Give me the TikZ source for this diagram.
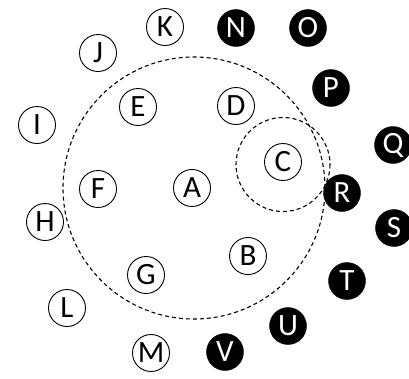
\documentclass[tikz,border=0pt]{standalone}
\usepackage{fontspec}
\setmainfont{Carlito}
\begin{document}
\begin{tikzpicture}[x=1pt,y=-1pt,
  wn/.style={circle,draw=black,line width=0.9pt,fill=white,minimum size=37pt,inner sep=0pt,font=\fontsize{31}{31}\selectfont},
  bn/.style={circle,draw=black,fill=black,text=white,minimum size=37pt,inner sep=0pt,font=\fontsize{31}{31}\selectfont},
  ring/.style={draw=black,line width=1.1pt,dash pattern=on 4pt off 3pt}]
\useasboundingbox (0,0) rectangle (409,378);
\coordinate (bigc) at (194,188);
\coordinate (smc) at (283,164.5);
\draw[ring] (bigc) circle[radius=131];
\draw[ring] (smc) circle[radius=47];
\node[wn] (A) at (192,188) {A};
\node[wn] (B) at (248,256) {B};
\node[wn] (C) at (283,162) {C};
\node[wn] (D) at (236,106) {D};
\node[wn] (E) at (138,107) {E};
\node[wn] (F) at (98,189) {F};
\node[wn] (G) at (146,275) {G};
\node[wn] (H) at (45,222) {H};
\node[wn] (I) at (37,125) {I};
\node[wn] (J) at (98,53) {J};
\node[wn] (K) at (165,27) {K};
\node[wn] (L) at (67,308) {L};
\node[wn] (M) at (151,353) {M};
\node[bn] (N) at (236,28) {N};
\node[bn] (O) at (308,28) {O};
\node[bn] (P) at (331,88) {P};
\node[bn] (Q) at (393,145) {Q};
\node[bn] (R) at (342,193) {R};
\node[bn] (S) at (394,228) {S};
\node[bn] (T) at (347,281) {T};
\node[bn] (U) at (288,326) {U};
\node[bn] (V) at (225,352) {V};
\end{tikzpicture}
\end{document}
